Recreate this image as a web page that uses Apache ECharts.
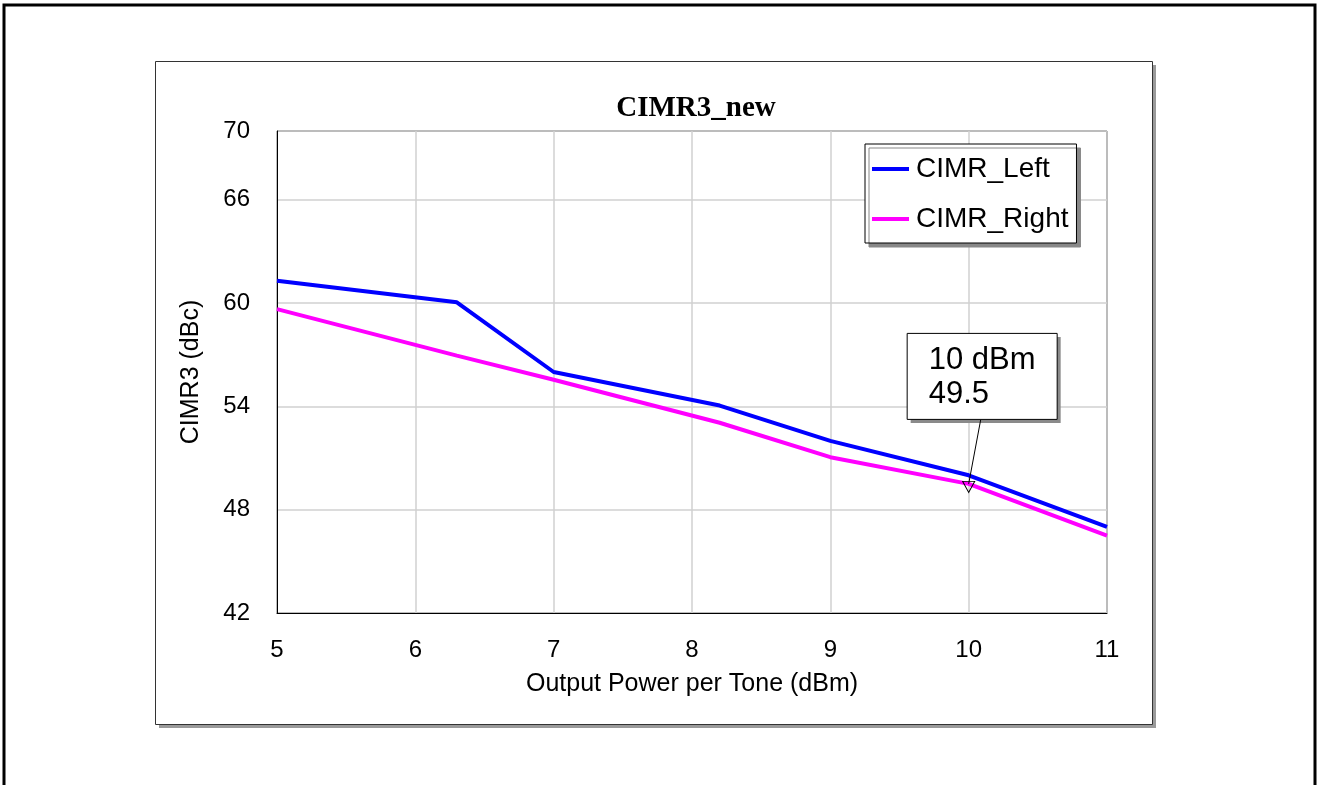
<!DOCTYPE html>
<html>
<head>
<meta charset="utf-8">
<script src="https://cdn.jsdelivr.net/npm/echarts@6/dist/echarts.min.js"></script>
<style>
  html, body { margin: 0; padding: 0; background: #fff; }
  #chart { width: 1319px; height: 785px; }
</style>
</head>
<body>
<div id="chart"></div>
<script>
// values
const xPower = [5, 6.3, 7, 8.2, 9, 10, 11];
const cimrLeft = [61.3, 60.05, 56.0, 54.05, 52.0, 50.0, 47.0];
const cimrRight = [59.65, 56.95, 55.55, 53.05, 51.05, 49.5, 46.5];
const xTicks = [5, 6, 7, 8, 9, 10, 11];
const yTicks = [42, 48, 54, 60, 66, 70];
const marker = { x: 10, y: 49.5, label: ['10 dBm', '49.5'] };

const chart = echarts.init(document.getElementById('chart'), null, { renderer: 'canvas' });
const font = 'Liberation Sans, Arial, sans-serif';

const toPairs = (xs, ys) => xs.map((x, i) => [x, ys[i]]);

const option = {
  animation: false,
  backgroundColor: '#fff',
  title: {
    text: 'CIMR3_new',
    left: 691,
    top: 89,
    textAlign: 'center',
    textStyle: {
      fontFamily: 'Liberation Serif, Times New Roman, serif',
      fontWeight: 'bold',
      fontSize: 29,
      color: '#000'
    }
  },
  grid: {
    left: 277,
    top: 131,
    width: 830,
    height: 482,
    show: true,
    borderColor: '#000',
    borderWidth: 1,
    backgroundColor: 'transparent'
  },
  legend: {
    orient: 'vertical',
    left: 865,
    top: 144,
    padding: [11, 8, 10, 7],
    itemGap: 22,
    itemWidth: 37,
    itemHeight: 4,
    icon: 'rect',
    backgroundColor: '#fff',
    borderColor: '#000',
    borderWidth: 1,
    shadowColor: '#888',
    shadowBlur: 0,
    shadowOffsetX: 4,
    shadowOffsetY: 4,
    textStyle: { fontFamily: font, fontSize: 28, lineHeight: 28, color: '#000', padding: [0, 0, 0, 2] },
    data: ['CIMR_Left', 'CIMR_Right']
  },
  xAxis: {
    type: 'value',
    min: xTicks[0],
    max: xTicks[xTicks.length - 1],
    interval: 1,
    name: 'Output Power per Tone (dBm)',
    nameLocation: 'middle',
    nameGap: 59,
    nameTextStyle: { fontFamily: font, fontSize: 25, color: '#000' },
    axisLine: { show: true, lineStyle: { color: '#000', width: 1 } },
    axisTick: { show: false },
    axisLabel: { fontFamily: font, fontSize: 24, color: '#000', margin: 25 },
    splitLine: { show: true, lineStyle: { color: '#d0d0d0', width: 1.5 } }
  },
  yAxis: {
    type: 'value',
    min: yTicks[0],
    max: yTicks[yTicks.length - 1],
    interval: 6,
    name: 'CIMR3 (dBc)',
    nameLocation: 'middle',
    nameGap: 73,
    nameRotate: 90,
    nameTextStyle: { fontFamily: font, fontSize: 25, color: '#000' },
    axisLine: { show: true, lineStyle: { color: '#000', width: 1 } },
    axisTick: { show: false },
    axisLabel: { fontFamily: font, fontSize: 24, color: '#000', margin: 27 },
    splitLine: { show: true, lineStyle: { color: '#d0d0d0', width: 1.5 } }
  },
  series: [
    {
      name: 'CIMR_Left',
      type: 'line',
      data: toPairs(xPower, cimrLeft),
      symbol: 'none',
      itemStyle: { color: '#0000ff' },
      lineStyle: { color: '#0000ff', width: 4 },
      z: 3
    },
    {
      name: 'CIMR_Right',
      type: 'line',
      data: toPairs(xPower, cimrRight),
      symbol: 'none',
      itemStyle: { color: '#ff00ff' },
      lineStyle: { color: '#ff00ff', width: 4 },
      z: 2,
      markPoint: {
        symbol: 'triangle',
        symbolSize: [12, 11],
        symbolRotate: 180,
        symbolOffset: [0, 3],
        silent: true,
        label: { show: false },
        itemStyle: { color: 'rgba(255,255,255,0)', borderColor: '#000', borderWidth: 1 },
        data: [{ coord: [marker.x, marker.y] }]
      }
    }
  ]
};

chart.setOption(option);

// frames + marker readout box, placed from the chart's own scales
const [px, py] = chart.convertToPixel({ gridIndex: 0 }, [marker.x, marker.y]);
const boxW = 150, boxH = 86;
const boxX = px - 62, boxY = py - 151;

chart.setOption({
  graphic: [
    {
      type: 'rect', z: -10, silent: true,
      shape: { x: 4, y: 5, width: 1311, height: 800 },
      style: { fill: 'none', stroke: '#000', lineWidth: 3 }
    },
    {
      type: 'rect', z: -9, silent: true,
      shape: { x: 159, y: 65, width: 997, height: 663 },
      style: { fill: '#9a9a9a' }
    },
    {
      type: 'rect', z: -8, silent: true,
      shape: { x: 155.5, y: 61.5, width: 997, height: 663 },
      style: { fill: '#fff', stroke: '#333', lineWidth: 1 }
    },
    {
      type: 'rect', z: 100, silent: true,
      shape: { x: boxX + 4, y: boxY + 4, width: boxW, height: boxH },
      style: { fill: '#8a8a8a' }
    },
    {
      type: 'rect', z: 101, silent: true,
      shape: { x: boxX + 0.5, y: boxY + 0.5, width: boxW, height: boxH },
      style: { fill: '#fff', stroke: '#000', lineWidth: 1 }
    },
    {
      type: 'text', z: 102, silent: true,
      x: boxX + 22, y: boxY + 11,
      style: {
        text: marker.label.join('\n'),
        font: '31px ' + font,
        lineHeight: 34,
        fill: '#000'
      }
    },
    {
      type: 'line', z: 101, silent: true,
      shape: { x1: px + 12, y1: boxY + boxH + 1, x2: px, y2: py },
      style: { stroke: '#000', lineWidth: 1 }
    }
  ]
});
</script>
</body>
</html>
